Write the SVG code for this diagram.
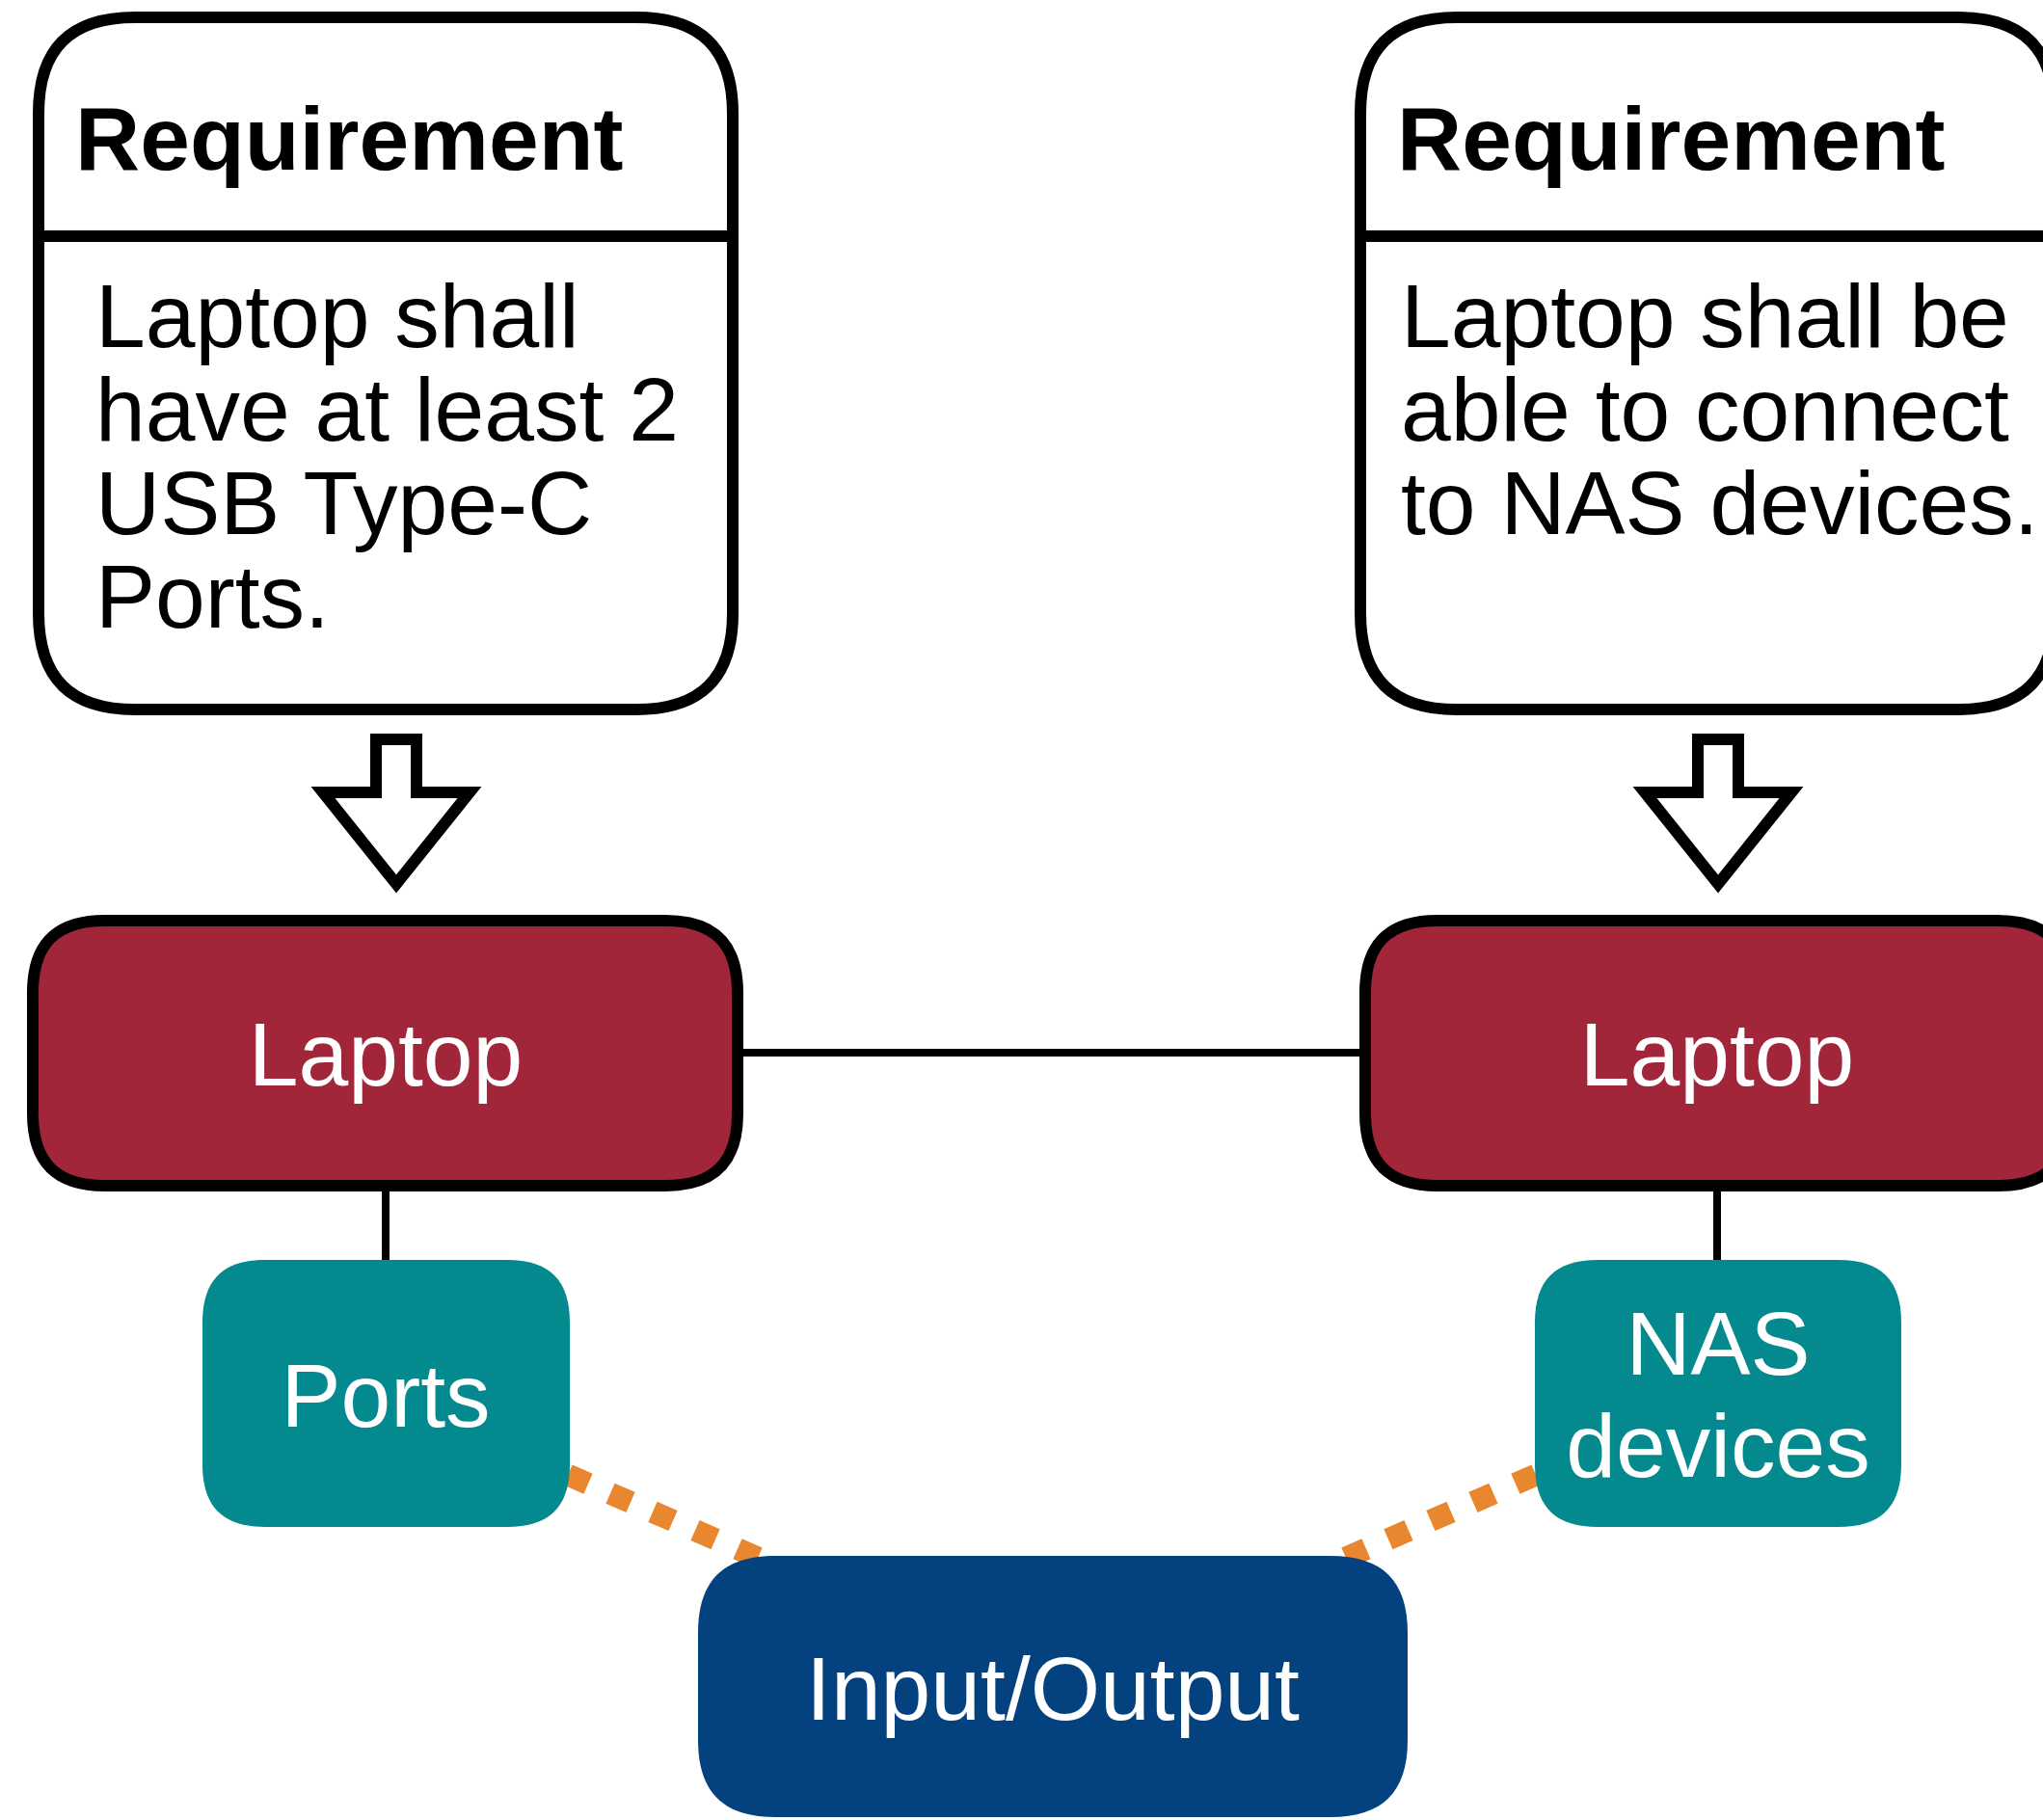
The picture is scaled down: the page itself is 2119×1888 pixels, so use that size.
<svg xmlns="http://www.w3.org/2000/svg" width="2119" height="1888" viewBox="0 0 2119 1888">
<style>
  .req { fill: #ffffff; stroke: #000000; stroke-width: 12; }
  .div { stroke: #000000; stroke-width: 12; }
  .blk { fill: #ffffff; stroke: #000000; stroke-width: 12; stroke-linejoin: miter; }
  .laptop { fill: #A2263A; stroke: #000000; stroke-width: 12; }
  .teal { fill: #048A8E; }
  .navy { fill: #03427F; }
  .conn { stroke: #000000; stroke-width: 8; fill: none; }
  .dot { stroke: #E8872F; stroke-width: 23; stroke-dasharray: 23 25; stroke-linecap: butt; fill: none; }
  text { font-family: "Liberation Sans", Arial, Helvetica, sans-serif; font-size: 93px; }
  .title { font-weight: bold; fill: #000000; }
  .body { fill: #000000; }
  .w { fill: #ffffff; text-anchor: middle; }
</style>
<rect width="2119" height="1888" fill="#ffffff"/>
<g id="connectors">
  <line class="conn" x1="765" y1="1092" x2="1416" y2="1092"/>
  <line class="conn" x1="400" y1="1236" x2="400" y2="1310"/>
  <line class="conn" x1="1781" y1="1236" x2="1781" y2="1310"/>
  <line class="dot" x1="589" y1="1530" x2="800" y2="1622"/>
  <line class="dot" x1="1593" y1="1530" x2="1382" y2="1622"/>
  <path class="blk" d="M390,767 H432 V822 H487 L411,917 L335,822 H390 Z"/>
  <path class="blk" d="M1761,767 H1803 V822 H1858 L1782,917 L1706,822 H1761 Z"/>
</g>
<g id="req1">
  <path class="req" d="M140,18 H660 C727,18 760,51 760,118 V636 C760,703 727,736 660,736 H140 C73,736 40,703 40,636 V118 C40,51 73,18 140,18 Z"/>
  <line class="div" x1="40" y1="245" x2="760" y2="245"/>
  <text class="title" x="78" y="176">Requirement</text>
  <text class="body" x="99" y="360">Laptop shall</text>
  <text class="body" x="99" y="457">have at least 2</text>
  <text class="body" x="99" y="554">USB Type-C</text>
  <text class="body" x="99" y="651">Ports.</text>
</g>
<g id="req2">
  <path class="req" d="M1511,18 H2031 C2098,18 2131,51 2131,118 V636 C2131,703 2098,736 2031,736 H1511 C1444,736 1411,703 1411,636 V118 C1411,51 1444,18 1511,18 Z"/>
  <line class="div" x1="1411" y1="245" x2="2131" y2="245"/>
  <text class="title" x="1449" y="176">Requirement</text>
  <text class="body" x="1453" y="360">Laptop shall be</text>
  <text class="body" x="1453" y="457">able to connect</text>
  <text class="body" x="1453" y="554">to NAS devices.</text>
</g>
<g id="laptop1">
  <path class="laptop" d="M109,955 H690 C741,955 765,979 765,1030 V1155 C765,1206 741,1230 690,1230 H109 C58,1230 34,1206 34,1155 V1030 C34,979 58,955 109,955 Z"/>
  <text class="w" x="400" y="1126">Laptop</text>
</g>
<g id="laptop2">
  <path class="laptop" d="M1491,955 H2072 C2123,955 2147,979 2147,1030 V1155 C2147,1206 2123,1230 2072,1230 H1491 C1440,1230 1416,1206 1416,1155 V1030 C1416,979 1440,955 1491,955 Z"/>
  <text class="w" x="1781" y="1126">Laptop</text>
</g>
<g id="ports">
  <path class="teal" d="M275,1307 H526 C570,1307 591,1328 591,1372 V1519 C591,1563 570,1584 526,1584 H275 C231,1584 210,1563 210,1519 V1372 C210,1328 231,1307 275,1307 Z"/>
  <text class="w" x="400" y="1480">Ports</text>
</g>
<g id="nas">
  <path class="teal" d="M1657,1307 H1907 C1951,1307 1972,1328 1972,1372 V1519 C1972,1563 1951,1584 1907,1584 H1657 C1613,1584 1592,1563 1592,1519 V1372 C1592,1328 1613,1307 1657,1307 Z"/>
  <text class="w" x="1782" y="1426">NAS</text>
  <text class="w" x="1782" y="1532">devices</text>
</g>
<g id="io">
  <path class="navy" d="M804,1614 H1380 C1434,1614 1460,1640 1460,1694 V1805 C1460,1859 1434,1885 1380,1885 H804 C750,1885 724,1859 724,1805 V1694 C724,1640 750,1614 804,1614 Z"/>
  <text class="w" x="1092" y="1784">Input/Output</text>
</g>
</svg>
